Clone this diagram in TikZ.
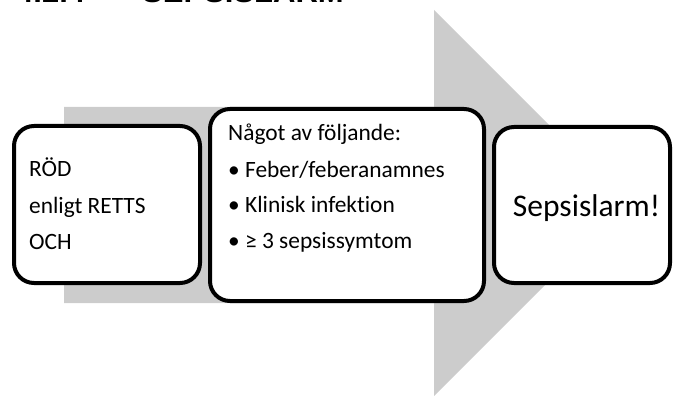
\documentclass[tikz,border=0pt]{standalone}
\usepackage{fontspec}
\setmainfont{Carlito}[Ligatures=NoCommon]
\newfontfamily\headfont{Liberation Sans}
\definecolor{arrowgray}{RGB}{204,204,204}
\begin{document}
\begin{tikzpicture}[x=1pt,y=-1pt,
  box/.style={draw=black,line width=4pt,rounded corners=20pt,fill=white,inner sep=0pt,outer sep=0pt},
  txt/.style={anchor=base west,inner sep=0pt,font=\fontsize{23.4}{23.4}\selectfont},
  big/.style={anchor=base,inner sep=0pt,font=\fontsize{31.5}{31.5}\selectfont}]
\useasboundingbox (0,0) rectangle (673,396);
% clipped heading
\begin{scope}
\clip (0,0) rectangle (673,6);
\node[anchor=base west,inner sep=0pt,font=\headfont\bfseries\fontsize{31}{31}\selectfont] (head1) at (16,3) {4.2.4};
\node[anchor=base west,inner sep=0pt,font=\headfont\bfseries\fontsize{31}{31}\selectfont] (head2) at (142,3) {SEPSISLARM};
\end{scope}
% big arrow
\fill[arrowgray] (64,107) -- (434,107) -- (434,10) -- (627,203) -- (434,396) -- (434,303) -- (64,303) -- cycle;
% boxes
\draw[box] (14,126) rectangle (200,283);
\draw[box] (210,109) rectangle (484,301);
\draw[box] (494,127) rectangle (670,283);
% box 1 text
\node[txt] (r1) at (29,176) {RÖD};
\node[txt] (r2) at (29,213) {enligt RETTS};
\node[txt] (r3) at (29,249) {OCH};
% box 2 text
\node[txt] (m0) at (228,140) {Något av följande:};
\node[txt] (m1) at (228,177) {• Feber/feberanamnes};
\node[txt] (m2) at (228,212) {• Klinisk infektion};
\node[txt] (m3) at (228,248) {• ≥ 3 sepsissymtom};
% box 3 text
\node[big] (s) at (586.5,216) {Sepsislarm!};
\end{tikzpicture}
\end{document}
